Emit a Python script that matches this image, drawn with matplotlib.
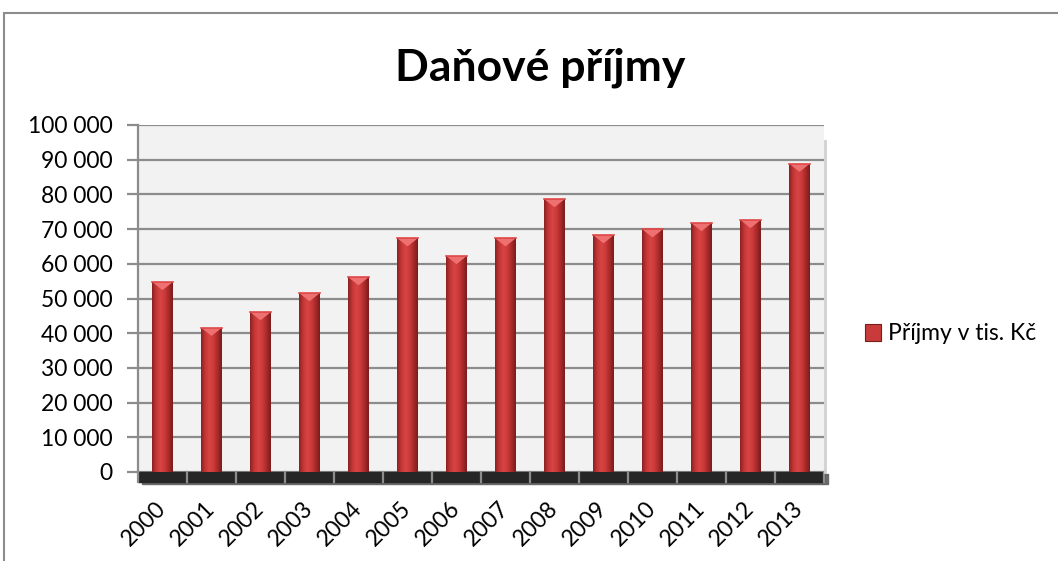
import numpy as np
import matplotlib
matplotlib.use('agg')
import matplotlib.pyplot as plt
from matplotlib.patches import Rectangle, Polygon
from matplotlib.colors import LinearSegmentedColormap
import matplotlib.transforms as mtransforms

plt.rcParams['font.family'] = ['Lato', 'DejaVu Sans']

# data (thousands CZK)
years = ['2000', '2001', '2002', '2003', '2004', '2005', '2006',
         '2007', '2008', '2009', '2010', '2011', '2012', '2013']
income = [54700, 41500, 46000, 51500, 56100, 67300, 62200,
          67300, 78600, 68200, 69900, 71700, 72600, 88800]
y_ticks = [0, 10000, 20000, 30000, 40000, 50000, 60000, 70000, 80000, 90000, 100000]
title = 'Daňové příjmy'
series_name = 'Příjmy v tis. Kč'

W, H = 1058, 561
fig = plt.figure(figsize=(W / 100, H / 100), dpi=100)
fig.patch.set_facecolor('white')

# outer chart border (top and left only visible)
fig.patches.append(Rectangle((4 / W, -0.1), 1.2, 1.1 - 13 / H, transform=fig.transFigure,
                             fill=False, edgecolor='#8c8c8c', lw=1.5, zorder=0))

ax = fig.add_axes([138 / W, 1 - 472 / H, (824 - 138) / W, (472 - 125) / H])
ax.set_facecolor('#f2f2f2')

# gridlines
ax.set_axisbelow(True)
ax.yaxis.grid(True, color='#8c8c8c', lw=1.6)
for s in ['top', 'right', 'bottom']:
    ax.spines[s].set_visible(False)
ax.spines['left'].set_color('#8c8c8c')
ax.spines['left'].set_linewidth(1.6)

ax.set_yticks(y_ticks)
ax.set_yticklabels(['{:,}'.format(v).replace(',', ' ') for v in y_ticks])
ax.tick_params(axis='y', length=8, width=1.6, color='#8c8c8c', labelsize=16.5, pad=10)

x = np.arange(len(years))
ax.set_xticks(x)
ax.set_xticklabels(years, rotation=45, ha='right', va='center', rotation_mode='anchor')
ax.tick_params(axis='x', length=0, labelsize=16.5, pad=24)

# right wall edge
ax.plot([1.002, 1.002], [0, 0.955], transform=ax.transAxes, color='#d0d0d0', lw=2, clip_on=False)

# floor (dark 3D base)
fh = 10 / 347
ax.add_patch(Rectangle((0.006, -fh - 0.006), 1.0, fh, transform=ax.transAxes,
                       color='#6a6a6a', clip_on=False, zorder=1))
ax.add_patch(Rectangle((0, -fh), 1.0, fh, transform=ax.transAxes,
                       color='#262626', clip_on=False, zorder=1.1))
trans = mtransforms.blended_transform_factory(ax.transData, ax.transAxes)
for b in np.arange(len(years) + 1) - 0.5:
    ax.plot([b, b], [0, -fh], transform=trans, color='#8c8c8c', lw=1.6,
            clip_on=False, zorder=1.2)

# bars with a horizontal shading gradient
width = 0.41
bar_cmap = LinearSegmentedColormap.from_list(
    'bar', ['#8a2222', '#c53636', '#d64444', '#cc3a3a', '#a82a2a', '#7a1c1c'])
grad = np.linspace(0, 1, 64).reshape(1, -1)
bars = ax.bar(x, income, width=width, color='#c93a3a', edgecolor='none', zorder=2)
bevel = 2300
for rect, xi, v in zip(bars, x, income):
    im = ax.imshow(grad, cmap=bar_cmap, aspect='auto', zorder=2.1,
                   extent=[xi - width / 2, xi + width / 2, 0, v])
    im.set_clip_path(rect)
    ax.add_patch(Polygon([[xi - width / 2, v], [xi + width / 2, v], [xi, v - bevel]],
                         closed=True, color='#ef7070', lw=0, zorder=2.2))
    ax.plot([xi - width / 2, xi + width / 2], [v, v], color='#e04848', lw=1.2, zorder=2.3)
ax.set_xlim(-0.5, len(years) - 0.5)
ax.set_ylim(0, 100000)

# title
fig.text(540 / W, 1 - 68 / H, title, ha='center', va='center',
         fontsize=32, fontweight='bold', color='black')

# legend
handle = Rectangle((0, 0), 1, 1, facecolor='#c93a3a', edgecolor='#7a1c1c', lw=0.8)
ax.legend([handle], [series_name], loc='center left',
          bbox_to_anchor=(865 / W, 1 - 334 / H), bbox_transform=fig.transFigure,
          frameon=False, fontsize=16.5, handlelength=0.7, handleheight=0.7,
          handletextpad=0.3, borderpad=0, borderaxespad=0)

fig.savefig('out.png', dpi=100)
